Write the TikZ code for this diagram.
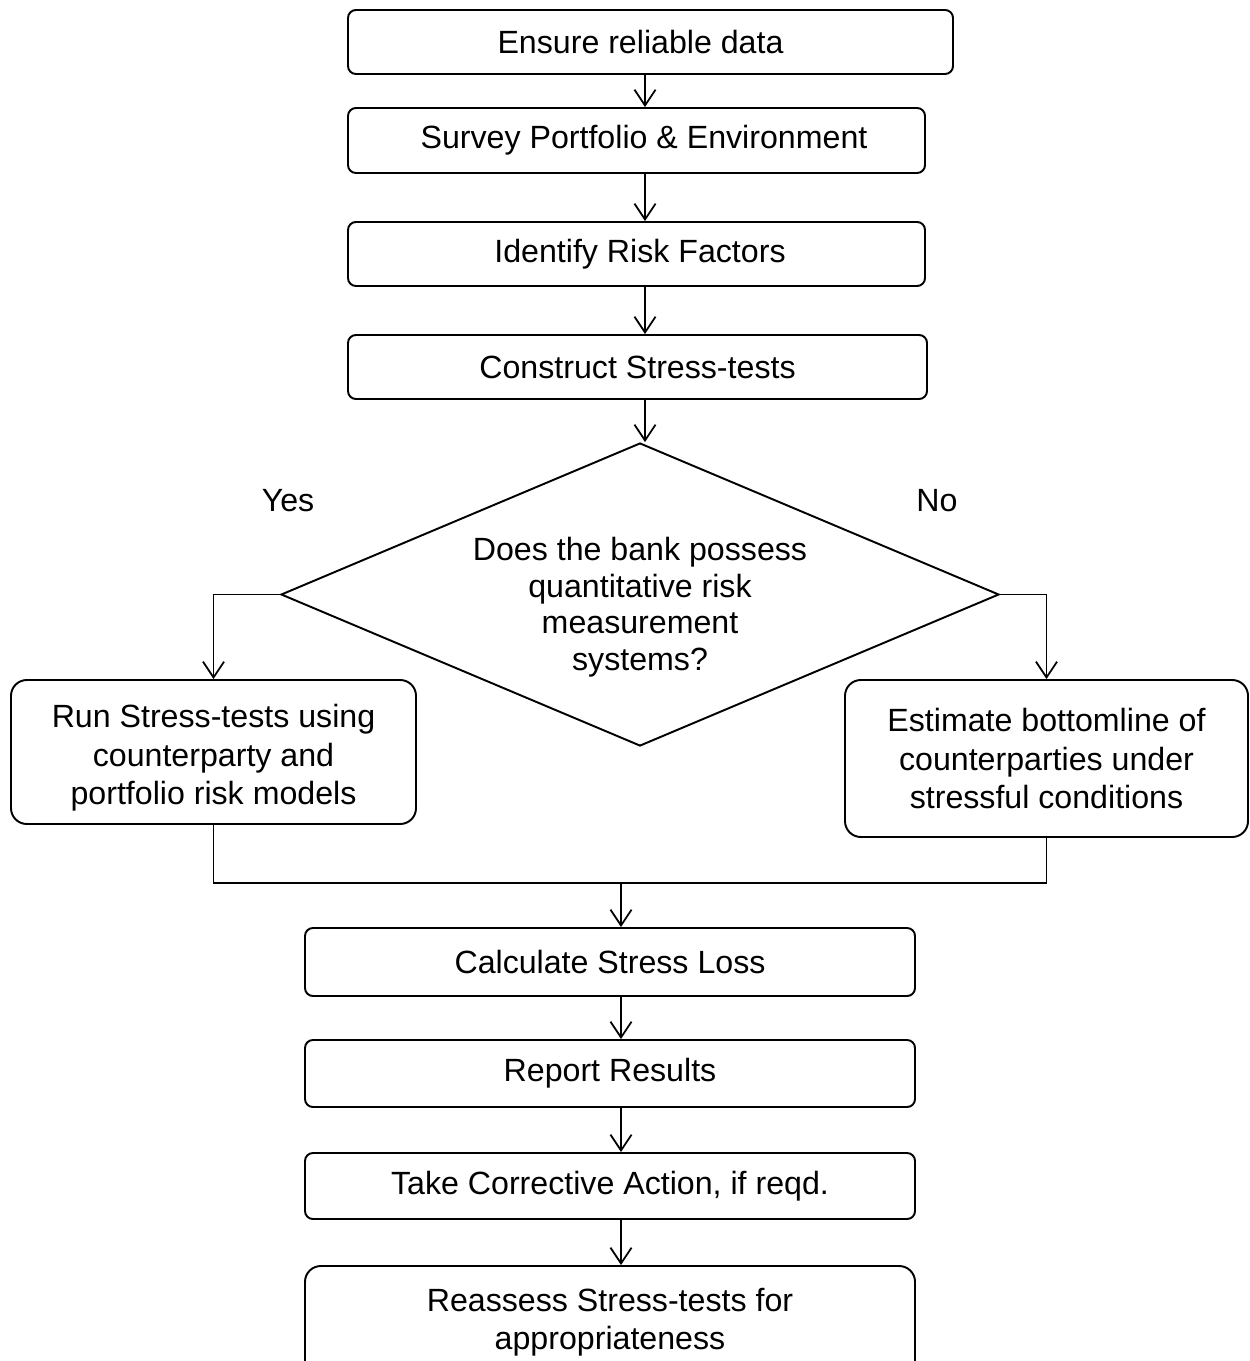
\documentclass[tikz,border=0pt]{standalone}
\usepackage{fontspec}
\setmainfont{Liberation Sans}
\usetikzlibrary{arrows.meta,shapes.geometric,calc}
\begin{document}
\begin{tikzpicture}[x=0.02cm,y=-0.02cm,
  every node/.style={font=\fontsize{18.3}{21.9}\selectfont, align=center, inner sep=0pt},
  box/.style={draw, line width=1.1pt, rounded corners=4.5pt},
  bigbox/.style={draw, line width=1.1pt, rounded corners=9pt},
  conn/.style={line width=1pt},
  arr/.style={conn, -{Straight Barb[length=9pt,width=12pt]}}
]
\clip (0,0) rectangle (1249,1361);
\fill[white] (0,0) rectangle (1249,1361);

\node[box, minimum width=605*0.02cm, minimum height=64*0.02cm] (b1) at (650.5,42) {Ensure reliable data\hspace*{0.4cm}};
\node[box, minimum width=577*0.02cm, minimum height=65*0.02cm] (b2) at (636.5,140.5) {\hspace*{0.3cm}Survey Portfolio \& Environment};
\node[box, minimum width=577*0.02cm, minimum height=64*0.02cm] (b3) at (636.5,254) {\hspace*{0.14cm}Identify Risk Factors};
\node[box, minimum width=579*0.02cm, minimum height=64*0.02cm] (b4) at (637.5,367) {Construct Stress-tests};

\node[diamond, draw, line width=1.1pt, minimum width=718*0.02cm, minimum height=303*0.02cm, aspect=2.37] (d) at (640,594.5) {};
\node[font=\fontsize{18.3}{20.8}\selectfont] (dq) at (640,607) {Does the bank possess\\quantitative risk\\measurement\\systems?};
\node (yes) at (288,501) {Yes};
\node (no) at (937,501) {No};

\node[bigbox, minimum width=405*0.02cm, minimum height=144*0.02cm] (L) at (213.5,752) {\rule{0pt}{0.7cm}Run Stress-tests using\\counterparty and\\portfolio risk models};
\node[bigbox, minimum width=403*0.02cm, minimum height=157*0.02cm] (R) at (1046.5,758.5) {Estimate bottomline of\\counterparties under\\stressful conditions};

\node[box, minimum width=610*0.02cm, minimum height=68*0.02cm] (b5) at (610,962) {Calculate Stress Loss};
\node[box, minimum width=610*0.02cm, minimum height=67*0.02cm] (b6) at (610,1073.5) {Report Results};
\node[box, minimum width=610*0.02cm, minimum height=66*0.02cm] (b7) at (610,1186) {Take Corrective Action, if reqd.};
\node[bigbox, minimum width=610*0.02cm, minimum height=112*0.02cm] (b8) at (610,1322) {Reassess Stress-tests for\\appropriateness};

\coordinate (ax) at (645,0);
\coordinate (m) at (621,883);

\draw[arr] (ax |- b1.south) -- (ax |- b2.north);
\draw[arr] (ax |- b2.south) -- (ax |- b3.north);
\draw[arr] (ax |- b3.south) -- (ax |- b4.north);
\draw[arr] (ax |- b4.south) -- (ax |- d.north);

\draw[arr] (d.west) -| (L.north);
\draw[arr] (d.east) -| (R.north);

\draw[conn] (L.south) |- (m) -| (R.south);
\draw[arr] (m) -- (m |- b5.north);
\draw[arr] (m |- b5.south) -- (m |- b6.north);
\draw[arr] (m |- b6.south) -- (m |- b7.north);
\draw[arr] (m |- b7.south) -- (m |- b8.north);
\end{tikzpicture}
\end{document}
